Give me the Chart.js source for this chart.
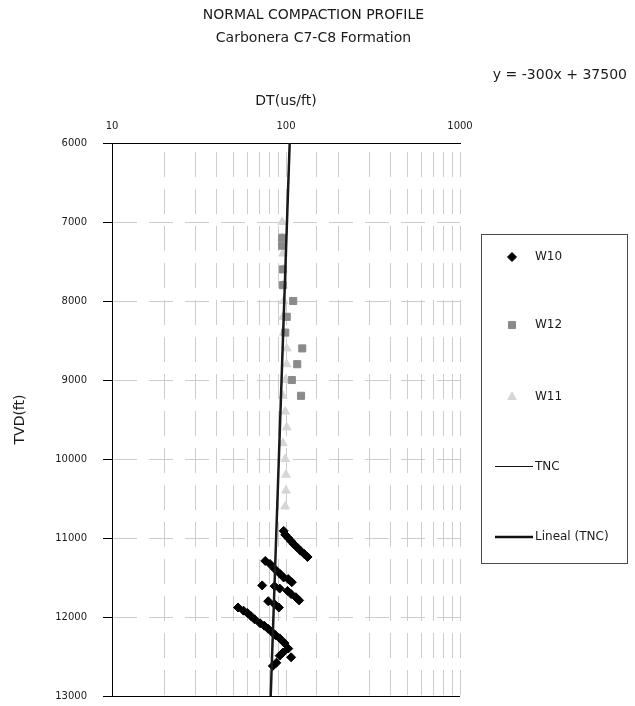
<!DOCTYPE html>
<html>
<head>
<meta charset="utf-8">
<script src="https://cdn.jsdelivr.net/npm/chart.js@4.4.1/dist/chart.umd.min.js"></script>
<style>
  html, body { margin: 0; padding: 0; background: #fff; }
  #wrap { width: 635px; height: 706px; }
</style>
</head>
<body>
<div id="wrap"><canvas id="chart"></canvas></div>
<script>
// W10 - black diamonds
const w10Depth = [10910, 10960, 11000, 11040, 11080, 11120, 11160, 11200, 11240,
                  11290, 11330, 11390, 11450, 11500, 11520, 11560,
                  11600,
                  11610, 11640, 11670, 11710, 11750, 11790,
                  11800, 11840, 11880,
                  11880, 11920, 11950, 11990, 12030, 12080, 12110, 12150, 12190, 12230, 12270, 12330, 12400,
                  12450, 12490, 12510, 12580, 12620];
const w10Dt = [97, 99, 103, 107, 111, 116, 121, 127, 133,
               76, 81, 86, 92, 97, 103, 108,
               73,
               86, 92, 102, 107, 114, 119,
               79, 86, 91,
               53, 57, 60, 63, 66, 71, 75, 79, 83, 87, 92, 98, 103,
               96, 92, 107, 88, 84];

// W12 - gray squares
const w12Depth = [7200, 7300, 7600, 7800, 8000, 8200, 8400, 8600, 8800, 9000, 9200];
const w12Dt = [95, 95, 96, 96, 110, 101, 99, 124, 116, 108, 122];

// W11 - light gray triangles
const w11Depth = [7000, 7200, 7400, 7600, 7800, 8000, 8200, 8400, 8600, 8800,
                  9000, 9200, 9400, 9600, 9800, 10000, 10200, 10400, 10600];
const w11Dt = [95, 95, 96, 96, 96, 97, 96, 97, 101, 101,
               99, 96, 99, 101, 96, 99, 100, 100, 99];

// TNC and its linear trend y = -300x + 37500
const tncDepth = [6000, 13000];
const tncDt = [105, 81.67];
const trendDepth = [6000, 13000];
const trendDt = [105, 81.67];

const xTickLabels = [10, 100, 1000];
const titleLines = ['NORMAL COMPACTION PROFILE', 'Carbonera C7-C8 Formation'];
const equation = 'y = -300x + 37500';

const pts = (dts, depths) => depths.map((d, i) => ({ x: dts[i], y: d }));

Chart.defaults.font.family = "'DejaVu Sans', sans-serif";
Chart.defaults.color = '#1a1a1a';

const GRID = '#cdcdcd';
const NONE = 'rgba(0,0,0,0)';

// legend drawn in the reserved right margin, with a frame like the original
const legendBox = {
  id: 'legendBox',
  afterDraw(chart) {
    const { ctx, chartArea } = chart;
    const left = chartArea.right + 21;
    ctx.save();
    // bottom frame line of the plot
    ctx.strokeStyle = '#000';
    ctx.lineWidth = 1;
    ctx.beginPath();
    ctx.moveTo(chartArea.left, Math.round(chartArea.bottom) + 0.5);
    ctx.lineTo(chartArea.right, Math.round(chartArea.bottom) + 0.5);
    ctx.stroke();

    ctx.strokeStyle = '#4a4a4a';
    ctx.strokeRect(left + 0.5, 234.5, 146, 329);

    const items = [
      { label: 'W10', style: 'rectRot', radius: 4.5, color: '#000', y: 257 },
      { label: 'W12', style: 'rect', radius: 5, color: '#8a8a8a', y: 325 },
      { label: 'W11', style: 'triangle', radius: 5, color: '#d6d6d6', y: 397 },
      { label: 'TNC', line: 1, y: 466.5 },
      { label: 'Lineal (TNC)', line: 2.5, y: 537 }
    ];
    ctx.font = "12px 'DejaVu Sans', sans-serif";
    ctx.textBaseline = 'middle';
    items.forEach(it => {
      if (it.line) {
        ctx.strokeStyle = '#111';
        ctx.lineWidth = it.line;
        ctx.beginPath();
        ctx.moveTo(left + 14, it.y);
        ctx.lineTo(left + 52, it.y);
        ctx.stroke();
      } else {
        ctx.fillStyle = it.color;
        ctx.strokeStyle = it.color;
        Chart.helpers.drawPoint(ctx, { pointStyle: it.style, radius: it.radius, rotation: 0, borderWidth: 1 }, left + 31, it.y);
      }
      ctx.fillStyle = '#1a1a1a';
      ctx.fillText(it.label, left + 54, Math.round(it.y));
    });
    ctx.restore();
  }
};

new Chart(document.getElementById('chart'), {
  type: 'scatter',
  data: {
    datasets: [
      {
        label: 'W10', data: pts(w10Dt, w10Depth), order: 2,
        pointStyle: 'rectRot', pointRadius: 4.5,
        backgroundColor: '#000', borderColor: '#000', borderWidth: 1
      },
      {
        label: 'W12', data: pts(w12Dt, w12Depth), order: 3,
        pointStyle: 'rect', pointRadius: 5,
        backgroundColor: '#8a8a8a', borderColor: '#8a8a8a', borderWidth: 1
      },
      {
        label: 'W11', data: pts(w11Dt, w11Depth), order: 4,
        pointStyle: 'triangle', pointRadius: 5,
        backgroundColor: '#d6d6d6', borderColor: '#d6d6d6', borderWidth: 1
      },
      {
        label: 'TNC', data: pts(tncDt, tncDepth), order: 1,
        showLine: true, pointRadius: 0, borderColor: '#111', borderWidth: 1
      },
      {
        label: 'Lineal (TNC)', data: pts(trendDt, trendDepth), order: 0,
        showLine: true, pointRadius: 0, borderColor: '#1a1a1a', borderWidth: 2.5
      }
    ]
  },
  options: {
    responsive: true,
    maintainAspectRatio: false,
    animation: false,
    devicePixelRatio: 1,
    layout: { padding: { left: 0, right: 8, top: 0, bottom: 10 } },
    plugins: {
      legend: { display: false },
      tooltip: { enabled: false },
      title: {
        display: true,
        text: titleLines,
        font: { size: 14, weight: 'normal', lineHeight: '23px' },
        color: '#1a1a1a',
        padding: { top: 4, bottom: 14 }
      },
      subtitle: {
        display: true,
        text: equation,
        align: 'end',
        font: { size: 14, lineHeight: '23px' },
        color: '#1a1a1a',
        padding: { top: 0, bottom: 0 }
      }
    },
    scales: {
      x: {
        type: 'logarithmic',
        position: 'top',
        min: 10,
        max: 1000,
        afterFit(s) { s.height = 56; },
        title: {
          display: true, text: 'DT(us/ft)',
          font: { size: 14 }, color: '#1a1a1a',
          padding: { top: 6, bottom: 0 }
        },
        ticks: {
          autoSkip: false, maxRotation: 0, padding: 11,
          font: { size: 10 }, color: '#1a1a1a',
          callback: v => xTickLabels.includes(Math.round(v)) ? String(Math.round(v)) : ''
        },
        grid: {
          drawTicks: false,
          color: c => (c.tick && c.tick.value === 10) ? NONE : GRID
        },
        border: { display: true, color: '#000', width: 1, dash: [25, 12], dashOffset: -8 }
      },
      y: {
        type: 'linear',
        position: 'left',
        reverse: true,
        min: 6000,
        max: 13000,
        afterFit(s) { s.width = 112; s.paddingTop = 0; s.paddingBottom = 10; },
        title: {
          display: true, text: 'TVD(ft)',
          font: { size: 14 }, color: '#1a1a1a',
          padding: { top: 12, bottom: 0 }
        },
        ticks: {
          stepSize: 1000, padding: 16,
          font: { size: 10 }, color: '#1a1a1a',
          callback: v => String(v)
        },
        grid: {
          tickLength: 9, tickColor: '#000',
          color: c => (c.tick && (c.tick.value === 6000 || c.tick.value === 13000)) ? NONE : GRID
        },
        border: { display: true, color: '#000', width: 1, dash: [24, 12] }
      },
      yRight: {
        type: 'linear',
        position: 'right',
        display: true,
        afterFit(s) { s.width = 167; s.paddingTop = 0; s.paddingBottom = 0; },
        ticks: { display: false },
        grid: { display: false, drawTicks: false },
        border: { display: false }
      }
    }
  },
  plugins: [legendBox]
});
</script>
</body>
</html>
